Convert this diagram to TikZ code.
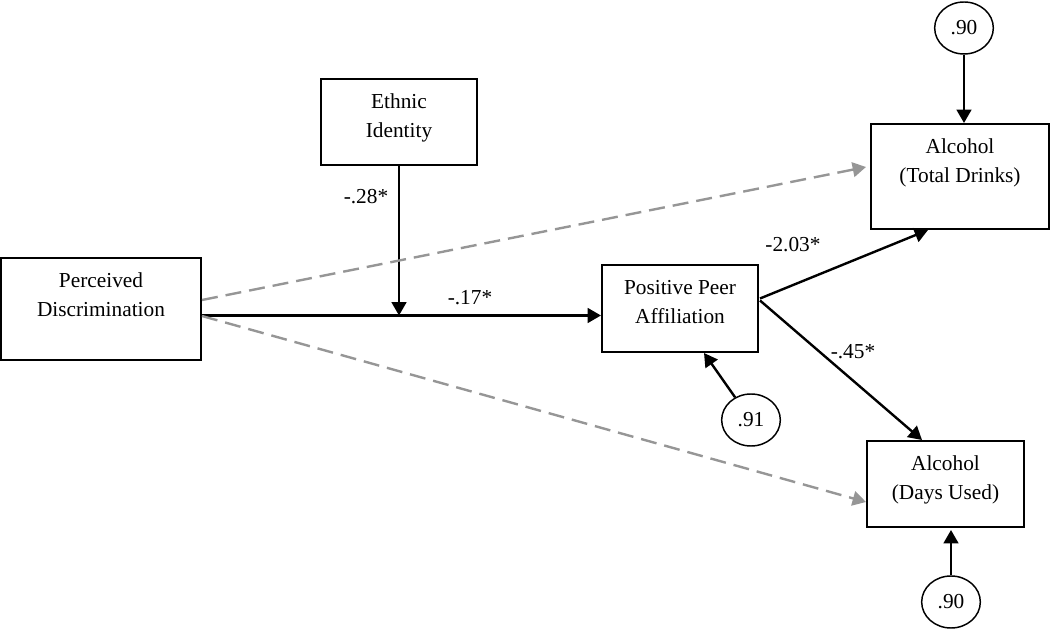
\documentclass[tikz,border=0pt]{standalone}
\usepackage{fontspec}
\setmainfont{Liberation Serif}
\usepackage{xcolor}
\usetikzlibrary{arrows.meta,shapes.geometric,calc}

\definecolor{nsgray}{RGB}{150,150,150}
% box text: width, height, lines (first baseline 30px below the top)
\newcommand{\boxtxt}[3]{\parbox[c][#2][t]{#1}{\centering\rule{0pt}{22.5pt}#3}}

\begin{document}
\begin{tikzpicture}[x=0.75pt,y=0.75pt,yscale=-1,xscale=1,
  font=\fontsize{16pt}{21.4pt}\selectfont,
  varbox/.style={draw, line width=1.5pt, inner sep=0pt},
  errcirc/.style={draw, ellipse, line width=1.1pt, minimum width=44pt, minimum height=39pt, inner sep=0pt},
  sigarr/.style={line width=1.8pt, -{Triangle[length=10pt,width=11pt]}},
  nsarr/.style={line width=1.8pt, nsgray, dash pattern=on 12pt off 6pt, -{Triangle[length=10pt,width=11pt]}},
  coef/.style={inner sep=0.75pt}]
\useasboundingbox (0,0) rectangle (1050,630);

%Variables
\node[varbox] (disc) at (101,309) {\boxtxt{150pt}{76.5pt}{Perceived\\Discrimination}};
\node[varbox] (ethnic) at (399,122) {\boxtxt{117pt}{64.5pt}{Ethnic\\Identity}};
\node[varbox] (peer) at (680,308.5) {\boxtxt{117pt}{65.25pt}{Positive Peer\\Affiliation}};
\node[varbox] (drinks) at (960,176.5) {\boxtxt{133.5pt}{78.75pt}{Alcohol\\(Total Drinks)}};
\node[varbox] (days) at (945.5,484) {\boxtxt{117.75pt}{64.5pt}{Alcohol\\(Days Used)}};

%Residuals
\node[errcirc] (edrinks) at (964,28) {.90};
\node[errcirc] (epeer) at (751,420) {.91};
\node[errcirc] (edays) at (951,602) {.90};

%Paths
\coordinate (mod) at (399,315.5);
\draw[sigarr] ($(disc.east)+(0,6.5)$) -- ($(peer.west)+(0,7)$);
\draw[sigarr] (ethnic.south) -- (mod);
\draw[nsarr] ($(disc.east)+(0,-9)$) -- ($(drinks.west)+(-4,-9.5)$);
\draw[nsarr] ($(disc.east)+(0,7)$) -- ($(days.west)+(0,18)$);
\draw[sigarr] ($(peer.east)+(1,-10)$) -- ($(drinks.south)+(-32,0)$);
\draw[sigarr] ($(peer.east)+(1,-8)$) -- ($(days.north)+(-23.5,0)$);
\draw[sigarr] (edrinks.south) -- (edrinks.south |- drinks.north);
\draw[sigarr] (epeer) -- ($(peer.south)+(24,0)$);
\draw[sigarr] (edays.north) -- ($(edays.north |- days.south)+(0,2)$);

%Coefficients
\node[coef] (b28) at (366,197) {-.28*};
\node[coef] (b17) at (470,298) {-.17*};
\node[coef] (b203) at (793,245) {-2.03*};
\node[coef] (b45) at (853,352) {-.45*};
\end{tikzpicture}
\end{document}
